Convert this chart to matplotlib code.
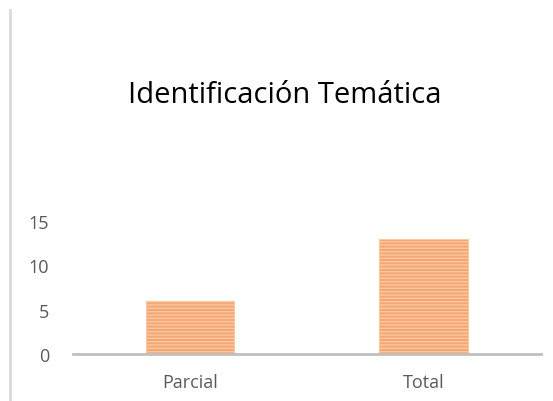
import matplotlib
matplotlib.use("Agg")
import matplotlib.pyplot as plt
from matplotlib.lines import Line2D

categorias = ["Parcial", "Total"]
valores = [6, 13]
ticks_y = [0, 5, 10, 15]

plt.rcParams['font.family'] = ['Open Sans', 'DejaVu Sans']
plt.rcParams['hatch.color'] = '#EC7326'
plt.rcParams['hatch.linewidth'] = 1.0

fig = plt.figure(figsize=(5.53, 4.02), dpi=100)
ax = fig.add_axes([0.132, 0.117, 0.846, 0.331])

x = range(len(categorias))
ax.bar(x, valores, width=0.38, color='#F5A772', edgecolor='#F9C6A2',
       linewidth=0.8, hatch='-----')

ax.set_xlim(-0.5, 1.5)
ax.set_ylim(0, 15)
ax.set_yticks(ticks_y)
ax.set_xticks(list(x))
ax.set_xticklabels(categorias)
ax.tick_params(axis='both', length=0, colors='#595959', labelsize=13)
ax.tick_params(axis='y', pad=17)
ax.tick_params(axis='x', pad=14)

for lado in ['top', 'right', 'left']:
    ax.spines[lado].set_visible(False)
ax.spines['bottom'].set_color('#BFBFBF')
ax.spines['bottom'].set_linewidth(2)

fig.text(0.515, 0.763, "Identificación Temática", ha='center', va='center',
         fontsize=21, color='#000000')

# borde vertical a la izquierda
fig.add_artist(Line2D([0.018, 0.018], [0.0, 0.973], color='#D9D9D9', linewidth=2))

fig.savefig("out.png", dpi=100)
